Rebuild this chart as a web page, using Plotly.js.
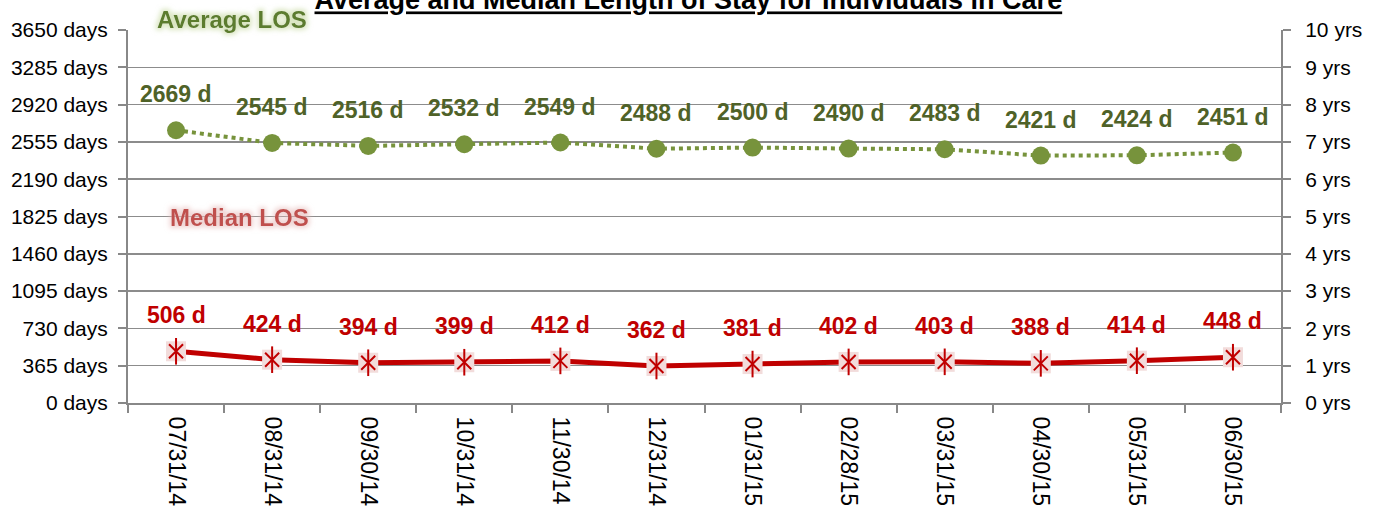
<!DOCTYPE html>
<html>
<head>
<meta charset="utf-8">
<script src="https://cdn.plot.ly/plotly-3.0.1.min.js"></script>
<style>
html,body{margin:0;padding:0;background:#fff;}
#chart{width:1385px;height:512px;}
</style>
</head>
<body>
<div id="chart"></div>
<script>
const dates = ["07/31/14","08/31/14","09/30/14","10/31/14","11/30/14","12/31/14","01/31/15","02/28/15","03/31/15","04/30/15","05/31/15","06/30/15"];
const averageLOS = [2669, 2545, 2516, 2532, 2549, 2488, 2500, 2490, 2483, 2421, 2424, 2451];
const medianLOS = [506, 424, 394, 399, 412, 362, 381, 402, 403, 388, 414, 448];
const dayTicks = [0, 365, 730, 1095, 1460, 1825, 2190, 2555, 2920, 3285, 3650];
const yearTicks = [0, 1, 2, 3, 4, 5, 6, 7, 8, 9, 10];

const green = "#77933C", darkGreen = "#4F6228", red = "#C00000";
const labelFont = "Liberation Sans, Arial, sans-serif";

const traces = [
  {x: dates, y: averageLOS, type: "scatter", mode: "lines+markers",
   line: {color: green, width: 4, dash: "dot"},
   marker: {symbol: "circle", size: 18, color: green}, hoverinfo: "y"},
  {x: dates, y: medianLOS, type: "scatter", mode: "lines+markers",
   line: {color: red, width: 5},
   marker: {symbol: "square", size: 20, color: "#F2DCDB", line: {width: 0}}, hoverinfo: "y"},
  {x: dates, y: medianLOS, type: "scatter", mode: "markers",
   marker: {symbol: "x-thin-open", size: 14, color: red, line: {color: red, width: 2}}, hoverinfo: "skip"},
  {x: dates, y: medianLOS, type: "scatter", mode: "markers",
   marker: {symbol: "line-ns-open", size: 19, color: red, line: {color: red, width: 2}}, hoverinfo: "skip"},
  {x: [dates[0]], y: [0], yaxis: "y2", type: "scatter", mode: "markers",
   marker: {size: 1, opacity: 0}, hoverinfo: "skip"}
];

const annotations = [];
dates.forEach((d, i) => {
  annotations.push({x: d, y: averageLOS[i], xref: "x", yref: "y", text: "<b>" + averageLOS[i] + " d</b>",
    showarrow: false, yshift: 36, font: {family: labelFont, size: 23, color: darkGreen}});
  annotations.push({x: d, y: medianLOS[i], xref: "x", yref: "y", text: "<b>" + medianLOS[i] + " d</b>",
    showarrow: false, yshift: 36, font: {family: labelFont, size: 23, color: red}});
});
annotations.push({x: 0.09, y: 1.027, xref: "paper", yref: "paper", xanchor: "center", yanchor: "middle",
  text: "<b>Average LOS</b>", showarrow: false,
  font: {family: labelFont, size: 24, color: "#5B7B2E"}});
annotations.push({x: 0.097, y: 0.496, xref: "paper", yref: "paper", xanchor: "center", yanchor: "middle",
  text: "<b>Median LOS</b>", showarrow: false,
  font: {family: labelFont, size: 24, color: "#C0504D"}});

const layout = {
  width: 1385, height: 512,
  margin: {l: 128, r: 104, t: 30, b: 109},
  paper_bgcolor: "#fff", plot_bgcolor: "#fff",
  showlegend: false,
  title: {text: "<b><span style=\"text-decoration:underline\">Average and Median Length of Stay for Individuals in Care</span></b>",
    x: 0.497, xanchor: "center", y: 1.0, yref: "container", yanchor: "middle",
    font: {family: labelFont, size: 27, color: "#000"}},
  xaxis: {type: "category", categoryarray: dates, range: [-0.5, 11.5], tickson: "boundaries",
    ticks: "outside", ticklen: 8, tickcolor: "#888", tickwidth: 2, ticklabelstandoff: 7,
    showline: true, linecolor: "#888", linewidth: 2, showgrid: false, zeroline: false,
    tickangle: 90, tickfont: {family: labelFont, size: 23, color: "#000"}},
  yaxis: {range: [0, 3650], tickvals: dayTicks, ticktext: dayTicks.map(v => v + " days"),
    ticks: "outside", ticklen: 8, tickcolor: "#888", tickwidth: 2, ticklabelstandoff: 6,
    showline: true, linecolor: "#888", linewidth: 2,
    showgrid: true, gridcolor: "#8C8C8C", gridwidth: 1.5, zeroline: false,
    tickfont: {family: labelFont, size: 21, color: "#000"}},
  yaxis2: {overlaying: "y", side: "right", range: [0, 10], tickvals: yearTicks, ticktext: yearTicks.map(v => v + " yrs"),
    ticks: "outside", ticklen: 8, tickcolor: "#888", tickwidth: 2, ticklabelstandoff: 10,
    showline: true, linecolor: "#888", linewidth: 2, showgrid: false, zeroline: false,
    tickfont: {family: labelFont, size: 21, color: "#000"}},
  annotations: annotations
};

Plotly.newPlot("chart", traces, layout, {displayModeBar: false, staticPlot: true}).then(gd => {
  const svg = gd.querySelector("svg.main-svg");
  const ns = "http://www.w3.org/2000/svg";
  let defs = svg.querySelector("defs");
  function makeFilter(id, color) {
    const f = document.createElementNS(ns, "filter");
    f.setAttribute("id", id);
    f.setAttribute("x", "-20%"); f.setAttribute("y", "-50%");
    f.setAttribute("width", "140%"); f.setAttribute("height", "200%");
    f.innerHTML = '<feMorphology in="SourceAlpha" operator="dilate" radius="2" result="d"/>' +
      '<feGaussianBlur in="d" stdDeviation="2.5" result="b"/>' +
      '<feFlood flood-color="' + color + '" flood-opacity="0.6"/>' +
      '<feComposite in2="b" operator="in" result="g"/>' +
      '<feMerge><feMergeNode in="g"/><feMergeNode in="SourceGraphic"/></feMerge>';
    defs.appendChild(f);
  }
  makeFilter("glowGreen", "#C3D69B");
  makeFilter("glowRed", "#E6B9B8");
  const texts = gd.querySelectorAll(".annotation-text");
  texts.forEach(t => {
    const s = t.textContent;
    if (s === "Average LOS") t.setAttribute("filter", "url(#glowGreen)");
    if (s === "Median LOS") t.setAttribute("filter", "url(#glowRed)");
  });
});
</script>
</body>
</html>
